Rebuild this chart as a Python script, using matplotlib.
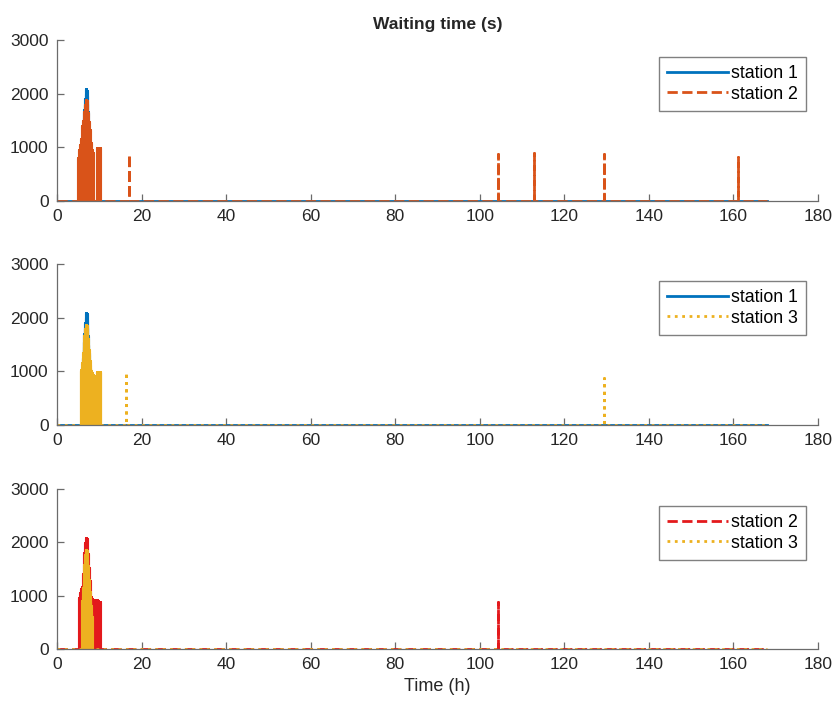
import matplotlib
matplotlib.use("Agg")
import matplotlib.pyplot as plt

plt.rcParams['font.family'] = ['Liberation Sans', 'DejaVu Sans']

# ---------------- data ----------------
T_END = 168.0
x_ticks = [0, 20, 40, 60, 80, 100, 120, 140, 160, 180]
y_ticks = [0, 1000, 2000, 3000]

# Panel 1
p1_s1_t = [6.0, 6.1, 6.2, 6.3, 6.4, 6.5, 6.6, 6.7, 6.8, 6.9, 7.0, 7.1, 7.2, 7.3, 7.4,
           7.5, 7.6, 7.7, 7.8, 7.9, 8.0]
p1_s1_w = [900, 1100, 1250, 1400, 1550, 1700, 1800, 1900, 2000, 2080, 2050, 1950, 1800,
           1650, 1500, 1350, 1200, 1050, 900, 700, 500]
p1_s2_t = [5.0, 5.1, 5.2, 5.3, 5.4, 5.5, 5.6, 5.7, 5.8, 5.9, 6.0, 6.1, 6.2, 6.3, 6.4,
           6.5, 6.6, 6.7, 6.8, 6.9, 7.0, 7.1, 7.2, 7.3, 7.4, 7.5, 7.6, 7.7, 7.8, 7.9,
           8.0, 8.1, 8.2, 8.3, 8.4, 8.5, 8.6,
           9.4, 9.5, 9.6, 9.7, 9.8, 9.9, 10.0, 10.1, 10.2,
           17.0, 104.2, 112.9, 129.4, 161.1]
p1_s2_w = [800, 850, 900, 950, 1000, 1050, 1100, 1150, 1200, 1300, 1400, 1450, 1500, 1550,
           1600, 1650, 1700, 1780, 1850, 1880, 1860, 1800, 1720, 1640, 1560, 1480, 1400,
           1320, 1240, 1160, 1080, 1000, 950, 920, 900, 880, 850,
           990, 990, 990, 990, 990, 990, 990, 990, 990,
           880, 880, 890, 870, 820]

# Panel 2
p2_s1_t = [6.0, 6.1, 6.2, 6.3, 6.4, 6.5, 6.6, 6.7, 6.8, 6.9, 7.0, 7.1, 7.2, 7.3, 7.4,
           7.5, 7.6, 7.7, 7.8, 7.9, 8.0]
p2_s1_w = [900, 1100, 1250, 1400, 1550, 1700, 1800, 1900, 2000, 2080, 2060, 1950, 1800,
           1650, 1500, 1350, 1200, 1050, 900, 700, 500]
p2_s3_t = [5.6, 5.7, 5.8, 5.9, 6.0, 6.1, 6.2, 6.3, 6.4, 6.5, 6.6, 6.7, 6.8, 6.9, 7.0,
           7.1, 7.2, 7.3, 7.4, 7.5, 7.6, 7.7, 7.8, 7.9, 8.0, 8.1, 8.2, 8.3, 8.4, 8.5,
           8.6, 8.7,
           9.4, 9.5, 9.6, 9.7, 9.8, 9.9, 10.0, 10.1, 10.2,
           16.3, 129.4]
p2_s3_w = [1000, 1020, 1050, 1080, 1150, 1250, 1350, 1450, 1550, 1650, 1720, 1780, 1830,
           1860, 1840, 1780, 1700, 1600, 1500, 1400, 1300, 1200, 1120, 1060, 1000, 980,
           960, 950, 940, 930, 930, 920,
           990, 990, 990, 990, 990, 990, 990, 990, 990,
           980, 870]

# Panel 3
p3_s2_t = [5.2, 5.3, 5.4, 5.5, 5.6, 5.7, 5.8, 5.9, 6.0, 6.1, 6.2, 6.3, 6.4, 6.5, 6.6,
           6.7, 6.8, 6.9, 7.0, 7.1, 7.2, 7.3, 7.4, 7.5, 7.6, 7.7, 7.8, 7.9, 8.0, 8.1,
           8.2, 8.3, 8.4, 8.5, 8.6, 8.7, 8.8, 8.9, 9.0, 9.1, 9.2, 9.3, 9.4, 9.5, 9.6,
           9.7, 9.8, 9.9, 10.0, 10.1, 10.2,
           104.2]
p3_s2_w = [900, 950, 1000, 1050, 1100, 1130, 1150, 1160, 1170, 1250, 1400, 1550, 1700,
           1800, 1900, 1980, 2050, 2080, 2070, 2000, 1900, 1780, 1650, 1520, 1400, 1280,
           1160, 1050, 980, 950, 930, 920, 920, 920, 920, 920, 920, 920, 920, 920, 920,
           910, 910, 900, 900, 890, 890, 880, 880, 880, 870,
           880]
p3_s3_t = [6.0, 6.1, 6.2, 6.3, 6.4, 6.5, 6.6, 6.7, 6.8, 6.9, 7.0, 7.1, 7.2, 7.3, 7.4,
           7.5, 7.6, 7.7, 7.8, 7.9, 8.0, 8.1, 8.2]
p3_s3_w = [900, 1000, 1150, 1300, 1450, 1580, 1680, 1760, 1820, 1850, 1830, 1760, 1660,
           1550, 1430, 1300, 1180, 1060, 960, 880, 800, 700, 600]

# ---------------- styling ----------------
C_BLUE = '#0072BD'
C_ORANGE = '#D95319'
C_YELLOW = '#EDB120'
C_RED = '#E3191C'
TEXT = '#262626'
SPINE = '#6b6b6b'
BURST_END = 11.0  # dense morning burst drawn as a filled band of spikes


def spike_path(times, values, start=0.0, end=T_END, base=True):
    xs, ys = ([start], [0.0]) if base else ([], [])
    for t, v in zip(times, values):
        xs += [t, t, t]
        ys += [0.0, v, 0.0]
    if base:
        xs.append(end)
        ys.append(0.0)
    return xs, ys


fig = plt.figure(figsize=(8.4, 7.02), dpi=100)
W, H = 840.0, 702.0
left = 57 / W
width = (818 - 57) / W
panel_px = [(40, 201), (264, 425), (489, 649)]

panels = [
    [(p1_s1_t, p1_s1_w, C_BLUE, '-', 'station 1'),
     (p1_s2_t, p1_s2_w, C_ORANGE, '--', 'station 2')],
    [(p2_s1_t, p2_s1_w, C_BLUE, '-', 'station 1'),
     (p2_s3_t, p2_s3_w, C_YELLOW, ':', 'station 3')],
    [(p3_s2_t, p3_s2_w, C_RED, '--', 'station 2'),
     (p3_s3_t, p3_s3_w, C_YELLOW, ':', 'station 3')],
]

axes = []
for (top, bot), series in zip(panel_px, panels):
    ax = fig.add_axes([left, 1 - bot / H, width, (bot - top) / H])
    for t, w, c, ls, lab in series:
        xs, ys = spike_path(t, w)
        ax.plot(xs, ys, color=c, linestyle=ls, linewidth=2, label=lab)
        # dense burst: overlapping spikes appear as a filled band
        bt = [ti for ti in t if ti < BURST_END]
        bw = [wi for ti, wi in zip(t, w) if ti < BURST_END]
        bx, by = spike_path(bt, bw, base=False)
        ax.plot(bx, by, color=c, linestyle='-', linewidth=2.2)
    ax.set_xlim(0, 180)
    ax.set_ylim(0, 3000)
    ax.set_xticks(x_ticks)
    ax.set_yticks(y_ticks)
    for s in ['top', 'right']:
        ax.spines[s].set_visible(False)
    for s in ['left', 'bottom']:
        ax.spines[s].set_color(SPINE)
        ax.spines[s].set_linewidth(0.9)
    ax.tick_params(direction='in', length=5, width=0.9, color=SPINE,
                   labelcolor=TEXT, labelsize=12.5, pad=6)
    leg = ax.legend(loc='upper right', bbox_to_anchor=(0.984, 0.894),
                    borderaxespad=0, fontsize=12.8, handlelength=3.4,
                    handletextpad=0.17, fancybox=False, framealpha=1,
                    edgecolor='#808080', borderpad=0.45, labelspacing=0.2)
    leg.get_frame().set_linewidth(1.0)
    axes.append(ax)

axes[0].set_title('Waiting time (s)', fontsize=12.5, fontweight='bold',
                  color=TEXT, pad=8)
axes[2].set_xlabel('Time (h)', fontsize=13, color=TEXT, labelpad=4)

fig.savefig('out.png', dpi=100)
